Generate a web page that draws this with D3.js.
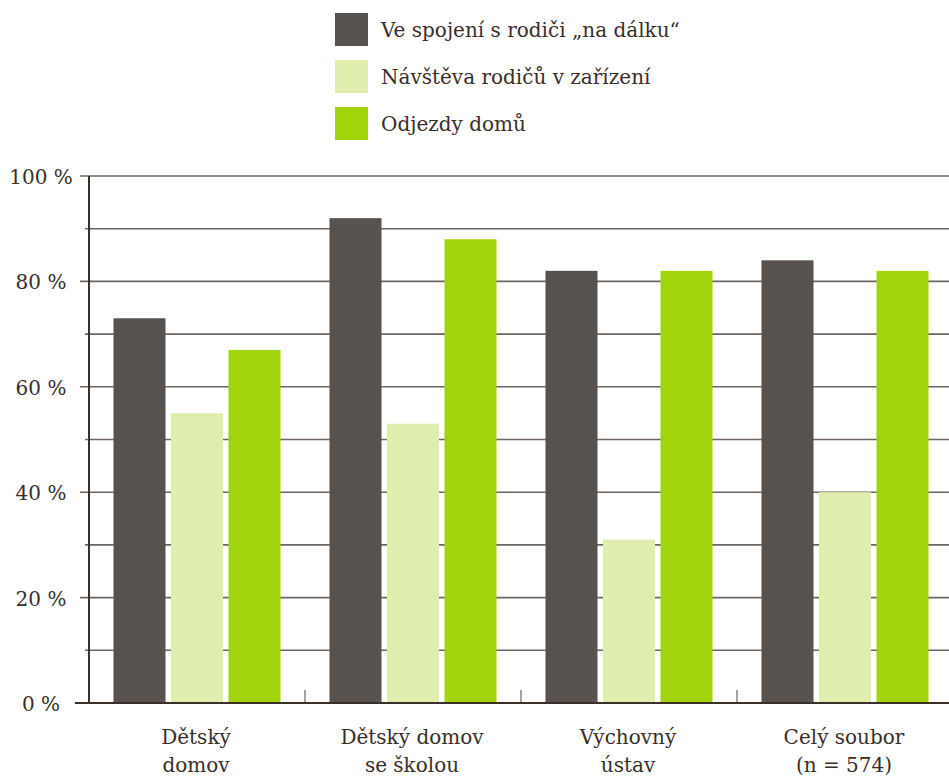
<!DOCTYPE html>
<html>
<head>
<meta charset="utf-8">
<script src="https://cdn.jsdelivr.net/npm/d3@7"></script>
<style>
  body { margin: 0; background: #fff; }
  svg text { font-family: "DejaVu Serif", serif; fill: #3a2e28; }
</style>
</head>
<body>
<svg class="chart"></svg>
<script>
let categories = [["Dětský", "domov"], ["Dětský domov", "se školou"], ["Výchovný", "ústav"], ["Celý soubor", "(n = 574)"]];
let seriesNames = ["Ve spojení s rodiči „na dálku“", "Návštěva rodičů v zařízení", "Odjezdy domů"];
let distance = [73, 92, 82, 84];
let visits = [55, 53, 31, 40];
let homeTrips = [67, 88, 82, 82];
let yTicks = [0, 20, 40, 60, 80, 100];
let yMinor = [10, 30, 50, 70, 90];

let colors = ["#57524d", "#dfeead", "#a2d40a"];
let svgWidth = 949, svgHeight = 778;
let series = [distance, visits, homeTrips];

let svg = d3.select('.chart')
    .attr("width", svgWidth)
    .attr("height", svgHeight);

let x = d3.scaleBand()
    .domain(d3.range(categories.length))
    .range([89, 953]);

let x1 = d3.scaleBand()
    .domain(d3.range(series.length))
    .range([0, 167])
    .paddingInner(0.0957);

let y = d3.scaleLinear()
    .domain([0, 100])
    .range([703, 176]);

// gridlines
svg.selectAll(".grid")
    .data(yTicks.concat(yMinor).filter(d => d > 0))
    .enter()
    .append("line")
    .attr("x1", d => yMinor.includes(d) ? 85 : 80)
    .attr("x2", svgWidth)
    .attr("y1", d => y(d))
    .attr("y2", d => y(d))
    .attr("stroke", "#6e6660")
    .attr("stroke-width", 1.6);

// bars
let groups = svg.selectAll(".group")
    .data(categories)
    .enter()
    .append("g")
    .attr("transform", (d, i) => "translate(" + (x(i) + (x.bandwidth() - 167) / 2) + ",0)");

groups.selectAll("rect")
    .data((d, i) => series.map((s, j) => ({ s: j, v: s[i] })))
    .enter()
    .append("rect")
    .attr("x", d => x1(d.s))
    .attr("width", x1.bandwidth())
    .attr("y", d => y(d.v))
    .attr("height", d => y(0) - y(d.v))
    .attr("fill", d => colors[d.s]);

// separators between categories
svg.selectAll(".sep")
    .data(d3.range(1, categories.length))
    .enter()
    .append("line")
    .attr("x1", d => x(d))
    .attr("x2", d => x(d))
    .attr("y1", 690)
    .attr("y2", 703)
    .attr("stroke", "#6e6660")
    .attr("stroke-width", 1.2);

// axes lines
svg.append("line")
    .attr("x1", 89).attr("x2", 89)
    .attr("y1", y(100)).attr("y2", y(0))
    .attr("stroke", "#3b2f2a").attr("stroke-width", 2);

svg.append("line")
    .attr("x1", 75).attr("x2", svgWidth)
    .attr("y1", y(0)).attr("y2", y(0))
    .attr("stroke", "#3b2f2a").attr("stroke-width", 2);

// y labels
svg.selectAll(".ylabel")
    .data(yTicks)
    .enter()
    .append("text")
    .attr("x", 41)
    .attr("y", d => y(d) + 8)
    .attr("text-anchor", "middle")
    .style("font-size", "20px")
    .text(d => d + " %");

// category labels
let catLabels = svg.selectAll(".cat")
    .data(categories)
    .enter()
    .append("text")
    .attr("text-anchor", "middle")
    .style("font-size", "20px");

catLabels.selectAll("tspan")
    .data((d, i) => d.map(t => ({ t: t, i: i })))
    .enter()
    .append("tspan")
    .attr("x", d => x(d.i) + x.bandwidth() / 2 - 1)
    .attr("y", (d, k) => 744 + k * 28)
    .text(d => d.t);

// legend
let legend = svg.selectAll(".legend")
    .data(seriesNames)
    .enter()
    .append("g")
    .attr("transform", (d, i) => "translate(335," + (13 + i * 47) + ")");

legend.append("rect")
    .attr("width", 33)
    .attr("height", 33)
    .attr("fill", (d, i) => colors[i]);

legend.append("text")
    .attr("x", 46)
    .attr("y", 24)
    .style("font-size", "20px")
    .text(d => d);
</script>
</body>
</html>
